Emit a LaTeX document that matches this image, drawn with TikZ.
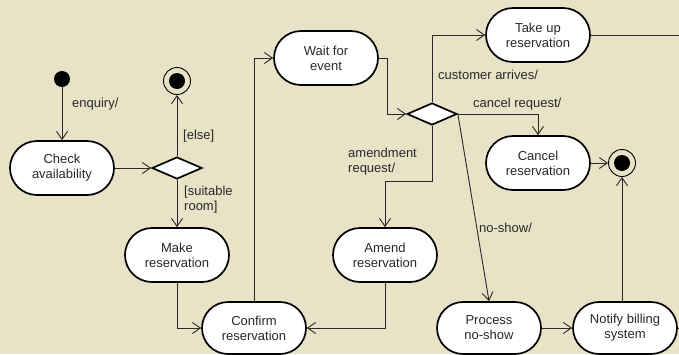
\documentclass[tikz,border=0pt]{standalone}
\usepackage{fontspec}
\setmainfont{Liberation Sans}
\usetikzlibrary{arrows.meta,shapes.geometric}
\definecolor{parchment}{RGB}{232,227,199}
\definecolor{ink}{RGB}{40,40,40}
\begin{document}
\begin{tikzpicture}[x=1pt,y=-1pt,
  font=\fontsize{13}{15}\selectfont,
  activity/.style={draw=black, fill=white, line width=1.7pt, rectangle,
    rounded corners=27pt, minimum width=104pt, minimum height=54pt,
    align=center, inner sep=0pt, text=ink},
  decision/.style={draw=black, fill=white, line width=1.7pt, diamond,
    minimum width=50pt, minimum height=22pt, inner sep=0pt},
  startdot/.style={circle, fill=black, minimum size=16pt, inner sep=0pt},
  enddot/.style={circle, draw=black, line width=0.9pt, minimum size=27pt, inner sep=0pt,
    path picture={\fill[black] (path picture bounding box.center) circle (8pt);}},
  flow/.style={draw=ink, line width=0.9pt, -{Straight Barb[length=8pt,width=11pt,line width=0.9pt]}},
  plain/.style={draw=ink, line width=0.9pt},
  guard/.style={text=ink, anchor=west, align=left, inner sep=0pt}]

% page and background
\fill[parchment] (0,0) rectangle (679,354);
\useasboundingbox (0,0) rectangle (679,354);

% states
\node[startdot] (init) at (62,79) {};
\node[activity] (check) at (62,168) {Check\\availability};
\node[decision] (d1) at (177,168) {};
\node[enddot] (f1) at (177,81) {};
\node[activity] (make) at (177,255) {Make\\reservation};
\node[activity, minimum height=52pt, rounded corners=26pt] (confirm) at (254,328) {Confirm\\reservation};
\node[activity] (wait) at (326,58) {Wait for\\event};
\node[decision] (d2) at (432,114) {};
\node[activity] (takeup) at (538,35) {Take up\\reservation};
\node[activity] (cancel) at (538,163) {Cancel\\reservation};
\node[enddot] (f2) at (622,163) {};
\node[activity] (amend) at (385,255) {Amend\\reservation};
\node[activity, minimum height=52pt, rounded corners=26pt] (process) at (489,328) {Process\\no-show};
\node[activity, minimum height=52pt, rounded corners=26pt] (notify) at (625,328) {Notify billing\\system};

% free ends leaving the page
\coordinate (outA) at (679,35);
\coordinate (outB) at (679,328);
\coordinate (bend) at (387,58);
\coordinate (amendbend) at (432,181);

% transitions
\draw[flow] (init) -- (check);
\draw[flow] (check) -- (d1);
\draw[flow] (d1.north) -- (f1);
\draw[flow] (d1.south) -- (make.north);
\draw[flow] (make.south) |- (confirm.west);
\draw[flow] (confirm.north) |- (wait.west);
\draw[flow] (wait.east) -- (bend) |- (d2.west);
\draw[flow] (d2.north) |- (takeup.west);
\draw[flow] (d2.east) -| (cancel.north);
\draw[flow] (d2.south) -- (amendbend) -| (amend.north);
\draw[flow] (d2.east) -- (process.north);
\draw[flow] (amend.south) |- (confirm.east);
\draw[flow] (process) -- (notify);
\draw[flow] (f2.south |- notify.north) -- (f2.south);
\draw[flow] (cancel) -- (f2);
\draw[plain] (takeup.east) -- (outA);
\draw[plain] (notify.east) -- (outB);

% guards and events
\node[guard] (lenq) at (72,104) {enquiry/};
\node[guard] (lelse) at (183,136) {[else]};
\node[guard] (lsuit) at (184,200) {[suitable\\room]};
\node[guard] (lcust) at (438,75) {customer arrives/};
\node[guard] (lcanc) at (473,104) {cancel request/};
\node[guard] (lamend) at (348,162) {amendment\\request/};
\node[guard] (lnoshow) at (479,228) {no-show/};
\end{tikzpicture}
\end{document}
